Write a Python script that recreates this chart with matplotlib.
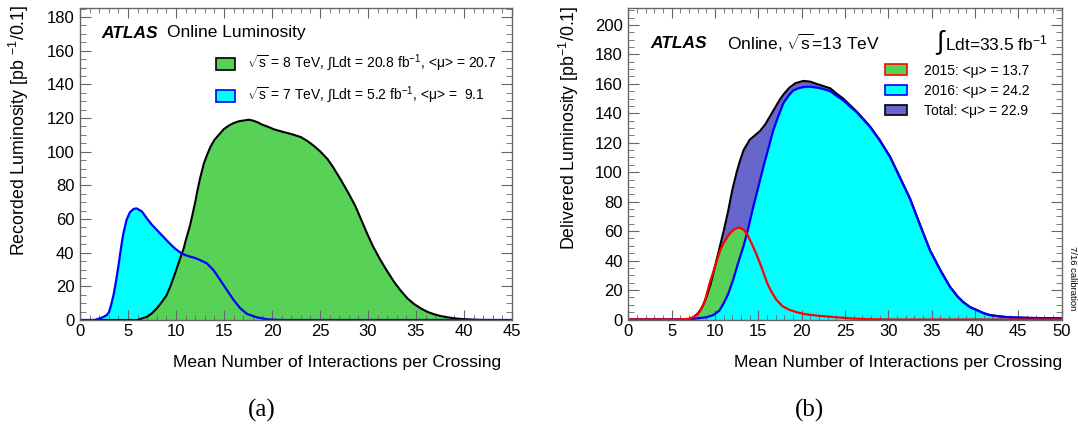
import matplotlib
matplotlib.use("Agg")
import matplotlib.pyplot as plt
from matplotlib.patches import Patch
from matplotlib.ticker import MultipleLocator

plt.rcParams['font.family'] = ['Liberation Sans', 'DejaVu Sans']
plt.rcParams['mathtext.fontset'] = 'custom'
plt.rcParams['mathtext.rm'] = 'Liberation Sans'
plt.rcParams['mathtext.it'] = 'Liberation Sans:italic'
plt.rcParams['mathtext.bf'] = 'Liberation Sans:bold'

# (a) 2011 / 2012 recorded luminosity vs <mu>
mu_7tev = [0, 1.5, 2.1, 2.5, 2.8, 3.0, 3.2, 3.5, 3.75, 4.0, 4.25, 4.5, 4.85, 5.2, 5.6,
           5.9, 6.45, 6.95, 7.5, 8.0, 8.5, 9.0, 9.6, 10.0, 10.6, 11.0, 11.5, 12.0, 12.5,
           13.2, 13.9, 14.6, 15.3, 16.0, 16.7, 17.4, 18.4, 19.5, 20.5, 21.5, 45]
lumi_7tev = [0, 0, 1, 2, 3, 4.5, 8, 15, 23, 32, 42, 51, 59.5, 64, 66,
             66.3, 64.5, 60.5, 56.5, 53.5, 50.5, 47.5, 44, 42, 39.5, 38.5, 37.6, 36.8, 35.6,
             33.7, 29.7, 23.8, 17.8, 11.9, 6.9, 3.6, 1.6, 0.4, 0.1, 0, 0]

mu_8tev = [0, 6, 7, 7.5, 8, 8.5, 9, 9.4, 9.8, 10.1, 10.4, 10.8, 11, 11.5, 12, 12.2,
           12.5, 12.9, 13.3, 13.6, 14, 14.3, 15, 15.5, 16, 16.5, 17, 17.6, 18, 18.5,
           19, 19.5, 20.2, 21, 22, 23, 23.7, 24.4, 25, 25.8, 26.4, 27.2, 28, 28.7,
           29.3, 29.9, 30.5, 31.3, 32, 32.7, 33.4, 34.1, 34.8, 35.5, 36.2, 36.9, 37.6,
           38.3, 39, 39.7, 41, 42, 43, 45]
lumi_8tev = [0, 0, 2, 4, 6.9, 10.5, 14.5, 19.8, 26, 31, 36, 42.5, 47, 57, 70, 76,
             84, 93, 99, 103, 107, 109, 113.5, 115.5, 117, 118, 118.5, 119, 118.5, 117.5,
             116, 115, 113.3, 112, 110.5, 108.7, 106.3, 103.3, 100.3, 95.5, 90.5, 83, 75, 67.5,
             59.5, 51.5, 44, 35.6, 29, 22.8, 17.5, 12.9, 9.5, 6.9, 4.8, 3.4, 2.3,
             1.6, 1, 0.6, 0.2, 0.05, 0, 0]

# (b) 2015 / 2016 delivered luminosity vs <mu>
mu_2015 = [0, 6, 7, 7.5, 8, 8.3, 8.8, 9.4, 10, 10.6, 11, 11.7, 12.3, 12.8, 13.3, 13.7,
           14.2, 14.8, 15.4, 16, 16.5, 17.1, 17.8, 18.6, 19.5, 20.5, 22, 24, 26, 28, 30, 50]
lumi_2015 = [0, 0, 0.5, 1.5, 3.5, 6, 12, 25, 36, 47, 52, 58.5, 61.5, 62.5, 61, 58,
             52, 44, 35, 25, 19, 13.3, 9, 6.5, 4.8, 3.5, 2.5, 1.5, 0.6, 0.2, 0, 0]

mu_2016 = [0, 7, 8, 9, 9.8, 10.5, 11, 11.5, 12.1, 12.6, 13.3, 13.8, 14.4, 15, 15.6,
           16.2, 16.7, 17.3, 17.9, 18.5, 19, 19.6, 20.2, 21, 21.7, 22.5, 23.3, 24, 24.8,
           25.5, 26.3, 27, 27.9, 29, 30.2, 31.3, 32.5, 33.6, 34.8, 36, 37.1, 38, 38.6,
           39.4, 40.2, 41, 41.7, 43, 44, 46, 48, 50]
lumi_2016 = [0, 0, 0.8, 1.5, 3, 6, 11, 17, 27, 37, 50, 61, 76, 90, 104,
             117, 128, 138, 147, 152, 155.4, 157, 157.8, 158, 157.5, 156.5, 155, 152, 148.8,
             145, 141, 136.5, 130.7, 121.6, 110.4, 96.8, 82, 65, 47, 33.5, 22.3, 15.5, 12,
             8.5, 6.4, 4.3, 3, 2, 1.5, 1.1, 0.9, 0.8]

mu_total = [0, 6.5, 7, 7.5, 8, 8.5, 9, 9.5, 10, 10.5, 11, 11.5, 12, 12.5, 12.9, 13.3,
            14, 14.6, 15.2, 15.8, 16.3, 17, 17.5, 18, 18.6, 19.3, 20.2, 21, 21.7, 22.5,
            23.3, 24, 24.8, 25.5, 26.3, 27, 27.9, 29, 30.2, 31.3, 32.5, 33.6, 34.8, 36,
            37.1, 38, 38.6, 39.4, 40.2, 41, 41.7, 43, 44, 46, 48, 50]
lumi_total = [0, 0, 0.3, 1.5, 4, 8, 15, 24, 36, 48, 60, 73, 88, 100, 108, 115,
              122, 125, 128, 132.5, 137.5, 144.5, 149.5, 153.5, 157.5, 160.5, 162, 161.5, 160,
              158.5, 157, 153.5, 150, 146, 141.5, 137, 131, 122, 110.5, 97, 82.1, 65.2, 47.1,
              33.6, 22.3, 15.5, 12.1, 8.5, 6.4, 4.3, 3, 2, 1.5, 1.1, 0.9, 0.8]

GREEN = '#57d257'
CYAN = '#00ffff'
SLATE = '#6666cc'
FRAME = '#666666'
W, H = 1078, 432

fig = plt.figure(figsize=(W / 100, H / 100), dpi=100)


def px_axes(x0, y0, x1, y1):
    return fig.add_axes([x0 / W, 1 - y1 / H, (x1 - x0) / W, (y1 - y0) / H])


def style(ax, xmax, ymax):
    ax.set_xlim(0, xmax)
    ax.set_ylim(0, ymax)
    ax.xaxis.set_major_locator(MultipleLocator(5))
    ax.xaxis.set_minor_locator(MultipleLocator(1))
    ax.yaxis.set_major_locator(MultipleLocator(20))
    ax.yaxis.set_minor_locator(MultipleLocator(5))
    ax.tick_params(which='both', direction='in', top=True, right=True,
                   color=FRAME, labelsize=12)
    ax.tick_params(axis='x', which='major', length=7, pad=3)
    ax.tick_params(axis='x', which='minor', length=3.5)
    ax.tick_params(axis='y', which='major', length=8, pad=4)
    ax.tick_params(axis='y', which='minor', length=4.5)
    for s in ax.spines.values():
        s.set_color(FRAME)
        s.set_linewidth(1.0)


# ---- panel (a)
ax1 = px_axes(80, 8.3, 512, 320)
style(ax1, 45, 185.2)
ax1.fill_between(mu_7tev, lumi_7tev, color=CYAN, lw=0)
ax1.fill_between(mu_8tev, lumi_8tev, color=GREEN, lw=0)
ax1.plot(mu_8tev, lumi_8tev, color='black', lw=1.5)
ax1.plot(mu_7tev, lumi_7tev, color='blue', lw=1.6)

h1 = [Patch(facecolor=GREEN, edgecolor='black', lw=1.2),
      Patch(facecolor=CYAN, edgecolor='blue', lw=1.2)]
l1 = [r'$\sqrt{\mathrm{s}}$ = 8 TeV, $\int$Ldt = 20.8 fb$^{\mathrm{-1}}$, <μ> = 20.7',
      r'$\sqrt{\mathrm{s}}$ = 7 TeV, $\int$Ldt = 5.2 fb$^{\mathrm{-1}}$, <μ> =  9.1']
ax1.legend(h1, l1, loc='upper left', bbox_to_anchor=(216 / W, 1 - 53 / H),
           bbox_transform=fig.transFigure, frameon=False, fontsize=10,
           handlelength=1.4, handleheight=0.95, handletextpad=0.85,
           labelspacing=0.75, borderpad=0, borderaxespad=0)

fig.text(101 / W, 1 - 33 / H, 'ATLAS', fontsize=12.5, fontweight='bold',
         fontstyle='italic', va='center')
fig.text(167 / W, 1 - 33 / H, 'Online Luminosity', fontsize=12.5, va='center')
fig.text(19 / W, 1 - 5 / H, r'Recorded Luminosity [pb $^{\mathrm{-1}}$/0.1]',
         rotation=90, fontsize=12.8, ha='center', va='top')
fig.text(501 / W, 1 - 363 / H, 'Mean Number of Interactions per Crossing',
         fontsize=12.5, ha='right', va='center')
fig.text(262 / W, 1 - 410 / H, '(a)', fontsize=18, family='Liberation Serif',
         ha='center', va='center')

# ---- panel (b)
ax2 = px_axes(628.3, 8, 1061.7, 319.5)
style(ax2, 50, 211.5)
ax2.fill_between(mu_total, lumi_total, color=SLATE, lw=0)
ax2.plot(mu_total, lumi_total, color='black', lw=1.5)
ax2.fill_between(mu_2015, lumi_2015, color=GREEN, lw=0)
ax2.fill_between(mu_2016, lumi_2016, color=CYAN, lw=0)
ax2.plot(mu_2016, lumi_2016, color='blue', lw=1.6)
ax2.plot(mu_2015, lumi_2015, color='red', lw=1.6)

h2 = [Patch(facecolor=GREEN, edgecolor='red', lw=1.2),
      Patch(facecolor=CYAN, edgecolor='blue', lw=1.2),
      Patch(facecolor=SLATE, edgecolor='black', lw=1.2)]
l2 = ['2015: <μ> = 13.7', '2016: <μ> = 24.2', 'Total: <μ> = 22.9']
ax2.legend(h2, l2, loc='upper left', bbox_to_anchor=(885 / W, 1 - 63.5 / H),
           bbox_transform=fig.transFigure, frameon=False, fontsize=10,
           handlelength=1.6, handleheight=0.8, handletextpad=1.2,
           labelspacing=0.45, borderpad=0, borderaxespad=0)

fig.text(650 / W, 1 - 43 / H, 'ATLAS', fontsize=12.5, fontweight='bold',
         fontstyle='italic', va='center')
fig.text(727 / W, 1 - 43 / H, r'Online, $\sqrt{\mathrm{s}}$=13 TeV', fontsize=12.5,
         va='center')
fig.text(943 / W, 1 - 42 / H, '∫', fontsize=19, ha='right', va='center')
fig.text(1048 / W, 1 - 43 / H, r'Ldt=33.5 fb$^{\mathrm{-1}}$', fontsize=12.5,
         ha='right', va='center')
fig.text(569 / W, 1 - 6 / H, r'Delivered Luminosity [pb$^{\mathrm{-1}}$/0.1]',
         rotation=90, fontsize=12.8, ha='center', va='top')
fig.text(1061.7 / W, 1 - 363 / H, 'Mean Number of Interactions per Crossing',
         fontsize=12.5, ha='right', va='center')
fig.text(810 / W, 1 - 410 / H, '(b)', fontsize=18, family='Liberation Serif',
         ha='center', va='center')
fig.text(1073 / W, 1 - 278 / H, '7/16 calibration', fontsize=6.8,
         rotation=-90, ha='center', va='center')

fig.savefig('out.png', dpi=100)
